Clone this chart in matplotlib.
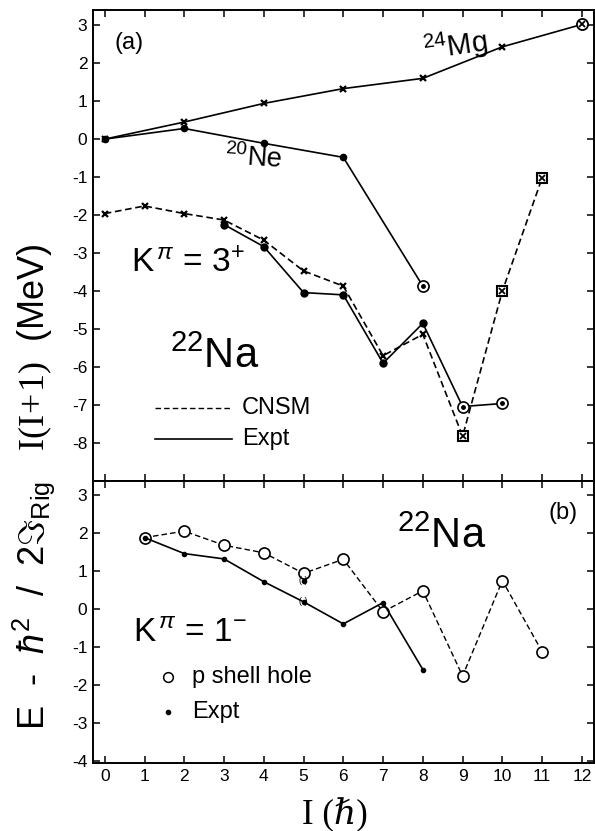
import matplotlib
matplotlib.use("Agg")
import matplotlib.pyplot as plt
import numpy as np

plt.rcParams['font.family'] = ['Liberation Sans', 'DejaVu Sans']
plt.rcParams['mathtext.fontset'] = 'custom'
plt.rcParams['mathtext.rm'] = 'Liberation Sans'
plt.rcParams['mathtext.it'] = 'Liberation Sans:italic'
plt.rcParams['mathtext.tt'] = 'Liberation Serif'
plt.rcParams['axes.unicode_minus'] = False

# ---- Panel (a) data ----
mg24_I = [0, 2, 4, 6, 8, 10, 12]
mg24_E = [0.0, 0.45, 0.94, 1.33, 1.60, 2.43, 3.02]

ne20_I = [0, 2, 4, 6, 8]
ne20_E = [0.0, 0.28, -0.11, -0.48, -3.87]

na22_cnsm_I = [0, 1, 2, 3, 4, 5, 6, 7, 8, 9, 10, 11]
na22_cnsm_E = [-1.96, -1.76, -1.96, -2.13, -2.66, -3.47, -3.87, -5.70, -5.14, -7.82, -4.00, -1.02]

na22_expt_I = [3, 4, 5, 6, 7, 8, 9, 10]
na22_expt_E = [-2.25, -2.83, -4.04, -4.10, -5.90, -4.85, -7.04, -6.96]

# ---- Panel (b) data ----
phole_I = [1, 2, 3, 4, 5, 6, 7, 8, 9, 10, 11]
phole_E = [1.88, 2.05, 1.68, 1.48, 0.94, 1.31, -0.07, 0.48, -1.76, 0.75, -1.12]

kexpt_I = [1, 2, 3, 4, 5, 6, 7, 8]
kexpt_E = [1.88, 1.46, 1.32, 0.72, 0.19, -0.39, 0.17, -1.59]

# tentative (parenthesised) level
tent_I = [5]
tent_E = [0.75]

xticks = list(range(0, 13))

fig = plt.figure(figsize=(5.95, 8.31), dpi=100)
L, R = 0.156, 0.998
B, MID, T = 0.0818, 0.4212, 0.988
axa = fig.add_axes([L, MID, R - L, T - MID])
axb = fig.add_axes([L, B, R - L, MID - B])

lw = 1.2
dash = (0, (4.0, 2.2))

# 24Mg
axa.plot(mg24_I, mg24_E, '-', color='k', lw=lw)
axa.plot(mg24_I[:-1], mg24_E[:-1], 'x', color='k', ms=4.5, mew=1.6)
axa.plot(mg24_I[-1:], mg24_E[-1:], 'o', ms=8, mfc='white', mec='k', mew=1.3)
axa.plot(mg24_I[-1:], mg24_E[-1:], 'x', ms=5, color='k', mew=1.3)

# 20Ne
axa.plot(ne20_I, ne20_E, '-', color='k', lw=lw)
axa.plot(ne20_I[:-1], ne20_E[:-1], 'o', color='k', ms=4.5)
axa.plot(ne20_I[-1:], ne20_E[-1:], 'o', ms=8, mfc='white', mec='k', mew=1.2)
axa.plot(ne20_I[-1:], ne20_E[-1:], 'o', ms=2.5, color='k')

# 22Na CNSM
axa.plot(na22_cnsm_I, na22_cnsm_E, color='k', lw=lw, ls=dash)
axa.plot(na22_cnsm_I[:9], na22_cnsm_E[:9], 'x', color='k', ms=4.5, mew=1.6)
axa.plot(na22_cnsm_I[9:], na22_cnsm_E[9:], 's', ms=7, mfc='white', mec='k', mew=1.5)
axa.plot(na22_cnsm_I[9:], na22_cnsm_E[9:], 'x', ms=4.5, color='k', mew=1.3)

# 22Na Expt
axa.plot(na22_expt_I, na22_expt_E, '-', color='k', lw=lw)
axa.plot(na22_expt_I[:6], na22_expt_E[:6], 'o', color='k', ms=5)
axa.plot(na22_expt_I[6:], na22_expt_E[6:], 'o', ms=8, mfc='white', mec='k', mew=1.2)
axa.plot(na22_expt_I[6:], na22_expt_E[6:], 'o', ms=2.5, color='k')

# Panel (b)
axb.plot(phole_I, phole_E, color='k', lw=1.0, ls=dash)
axb.plot(phole_I, phole_E, 'o', ms=8, mfc='white', mec='k', mew=1.2)
axb.plot(kexpt_I, kexpt_E, '-', color='k', lw=lw)
axb.plot(kexpt_I, kexpt_E, 'o', color='k', ms=3)
axb.plot(tent_I, tent_E, 'o', color='k', ms=3)
for xi, yi in [(tent_I[0], tent_E[0]), (kexpt_I[4], kexpt_E[4])]:
    axb.text(xi, yi, '( )', ha='center', va='center', fontsize=6.5)

for ax, ylim, yt in [(axa, (-9, 3.4), range(-8, 4)), (axb, (-4.05, 3.37), range(-4, 4))]:
    ax.set_xlim(-0.3, 12.3)
    ax.set_ylim(*ylim)
    ax.set_xticks(xticks)
    ax.set_yticks(list(yt))
    ax.tick_params(direction='in', length=5, width=1.1, top=True, right=True,
                   labelsize=12.5, pad=4)
    for s in ax.spines.values():
        s.set_linewidth(1.4)

axa.tick_params(labelbottom=False)
axb.set_xticklabels([str(v) for v in xticks])

# Annotations panel (a)
axa.text(0.6, 2.53, '(a)', fontsize=17, ha='center', va='center')
axa.text(7.95, 2.45, r'$^{24}$Mg', fontsize=21, ha='left', va='center', rotation=8)
axa.text(3.0, -0.5, r'$^{20}$Ne', fontsize=19.5, ha='left', va='center', rotation=-4)
axa.text(0.65, -3.27, r'K$^{\,\pi}$ = 3$^{+}$', fontsize=24, ha='left', va='center')
axa.text(1.65, -5.74, r'$^{22}$Na', fontsize=30, ha='left', va='center')
axa.plot([1.26, 3.2], [-7.08, -7.08], color='k', lw=1.0, ls=dash)
axa.plot([1.26, 3.2], [-7.9, -7.9], color='k', lw=1.2)
axa.text(3.45, -7.08, 'CNSM', fontsize=17, ha='left', va='center')
axa.text(3.45, -7.9, 'Expt', fontsize=17, ha='left', va='center')

# Annotations panel (b)
axb.text(11.52, 2.53, '(b)', fontsize=17, ha='center', va='center')
axb.text(7.35, 1.9, r'$^{22}$Na', fontsize=30, ha='left', va='center')
axb.text(0.72, -0.63, r'K$^{\,\pi}$ = 1$^{-}$', fontsize=24, ha='left', va='center')
axb.plot([1.58], [-1.79], 'o', ms=7, mfc='white', mec='k', mew=1.1)
axb.plot([1.58], [-2.72], 'o', ms=3, color='k')
axb.text(2.2, -1.79, 'p shell hole', fontsize=17, ha='left', va='center')
axb.text(2.2, -2.72, 'Expt', fontsize=17, ha='left', va='center')

fig.text(0.056, 1 - 487 / 831,
         r'E  -  $\hbar^2$  /  2$\Im_{\rm Rig}$   $\mathtt{I(I\!+\!1)}$  (MeV)',
         rotation=90, fontsize=26, ha='center', va='center')
fig.text(0.563, 1 - 815 / 831, 'I (\u210f)', fontsize=25, ha='center', va='center',
         family=['Liberation Serif', 'DejaVu Serif'])

fig.savefig('out.png', dpi=100)
